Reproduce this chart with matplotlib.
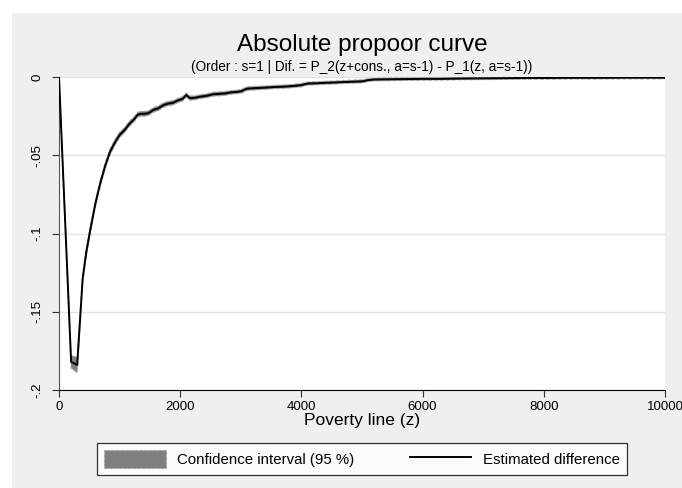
import numpy as np
import matplotlib.pyplot as plt
from matplotlib.patches import Rectangle

plt.rcParams['font.family'] = ['Liberation Sans', 'DejaVu Sans']

# poverty lines and estimated difference P_2 - P_1
z = [0, 200, 300, 390, 450, 510, 600, 680, 760, 840, 920, 1000, 1080, 1160,
     1240, 1300, 1360, 1420, 1480, 1560, 1640, 1720, 1800, 1880, 1960, 2040,
     2100, 2160, 2240, 2340, 2440, 2540, 2640, 2740, 2840, 2940, 3000, 3100,
     3200, 3300, 3400, 3550, 3700, 3850, 4000, 4100, 4250, 4400, 4550, 4700,
     4850, 5000, 5100, 5200, 5400, 5600, 5800, 6000, 6300, 6600, 6900, 7200,
     7500, 7800, 8100, 8400, 8700, 9000, 9300, 9600, 10000]
diff = [0, -0.182, -0.184, -0.129, -0.112, -0.099, -0.081, -0.068, -0.057,
        -0.048, -0.042, -0.037, -0.034, -0.030, -0.027, -0.024, -0.0235,
        -0.0235, -0.023, -0.021, -0.020, -0.018, -0.017, -0.0165, -0.015,
        -0.014, -0.0115, -0.0135, -0.0133, -0.0125, -0.012, -0.011, -0.0108,
        -0.0105, -0.0098, -0.0095, -0.0092, -0.0075, -0.0072, -0.0070,
        -0.0068, -0.0064, -0.0062, -0.0058, -0.0052, -0.0042, -0.0040,
        -0.0037, -0.0035, -0.0032, -0.0030, -0.0028, -0.0020, -0.0016,
        -0.0015, -0.0014, -0.0013, -0.0012, -0.0012, -0.0010, -0.0009,
        -0.0008, -0.0007, -0.0006, -0.0006, -0.0005, -0.0005, -0.0005,
        -0.0004, -0.0004, -0.0004]
# half width of the 95% confidence interval
ci_half = [0, 0.004, 0.005, 0.003, 0.0025, 0.0025, 0.0022, 0.002, 0.002,
           0.002, 0.0019, 0.0018, 0.0017, 0.0017, 0.0016, 0.0016, 0.0016,
           0.0016, 0.0015, 0.0015, 0.0015, 0.0015, 0.0014, 0.0014, 0.0014,
           0.0014, 0.0014, 0.0014, 0.0013, 0.0013, 0.0013, 0.0013, 0.0013,
           0.0013, 0.0012, 0.0012, 0.0012, 0.0012, 0.0012, 0.0012, 0.0011,
           0.0011, 0.0011, 0.0011, 0.0011, 0.001, 0.001, 0.001, 0.001, 0.001,
           0.001, 0.001, 0.0009, 0.0009, 0.0009, 0.0009, 0.0009, 0.0009,
           0.0008, 0.0008, 0.0008, 0.0008, 0.0008, 0.0008, 0.0008, 0.0008,
           0.0008, 0.0008, 0.0008, 0.0008, 0.0008]

yticks = [0, -0.05, -0.1, -0.15, -0.2]
ytick_labels = ['0', '-.05', '-.1', '-.15', '-.2']
xticks = [0, 2000, 4000, 6000, 8000, 10000]

z = np.array(z)
diff = np.array(diff)
ci_half = np.array(ci_half)

fig = plt.figure(figsize=(6.82, 4.88), dpi=100, facecolor='white')
fig.patches.append(Rectangle((12 / 682, 0), 1, 1 - 13 / 488, transform=fig.transFigure,
                             facecolor='#efefef', edgecolor='none', zorder=-10))

ax = fig.add_axes([59 / 682, 98 / 488, 606 / 682, 313 / 488])
ax.set_facecolor('white')

ci = ax.fill_between(z, diff - ci_half, diff + ci_half, facecolor='#7f7f7f',
                     edgecolor='#a8a8a8', linestyle='--', linewidth=0.8,
                     label='Confidence interval (95 %)', zorder=2)
line, = ax.plot(z, diff, color='black', linewidth=1.4,
                label='Estimated difference', zorder=3)

ax.set_xlim(0, 10000)
ax.set_ylim(-0.2, 0)
ax.set_xticks(xticks)
ax.set_xticklabels([str(t) for t in xticks], fontsize=9.5)
ax.set_yticks(yticks)
ax.set_yticklabels(ytick_labels, fontsize=9.5, rotation=90, va='center')
ax.grid(axis='y', color='#e4e4e4', linewidth=1, zorder=0)
ax.set_axisbelow(True)
ax.tick_params(axis='both', length=5, width=0.8, color='#333333')
ax.tick_params(axis='y', pad=6)
ax.tick_params(axis='x', pad=3)

for s in ['top', 'right']:
    ax.spines[s].set_visible(False)
ax.spines['left'].set_color('#555555')
ax.spines['bottom'].set_color('black')

ax.set_xlabel('Poverty line (z)', fontsize=12.5, labelpad=0)

fig.text(362 / 682, 1 - 45 / 488, 'Absolute propoor curve', ha='center',
         va='center', fontsize=17.5)
fig.text(362 / 682, 1 - 67 / 488,
         '(Order : s=1 | Dif. = P_2(z+cons., a=s-1) - P_1(z, a=s-1))',
         ha='center', va='center', fontsize=9.8)

leg = fig.legend(handles=[ci, line], loc='center', ncol=2,
                 bbox_to_anchor=(362 / 682, 1 - 459 / 488), fontsize=10.8,
                 frameon=True, fancybox=False, edgecolor='black',
                 handlelength=4.1, handleheight=1.4, columnspacing=3.7,
                 handletextpad=0.75, borderpad=0.5)
leg.get_frame().set_linewidth(0.9)

fig.savefig('out.png', dpi=100, facecolor=fig.get_facecolor())
